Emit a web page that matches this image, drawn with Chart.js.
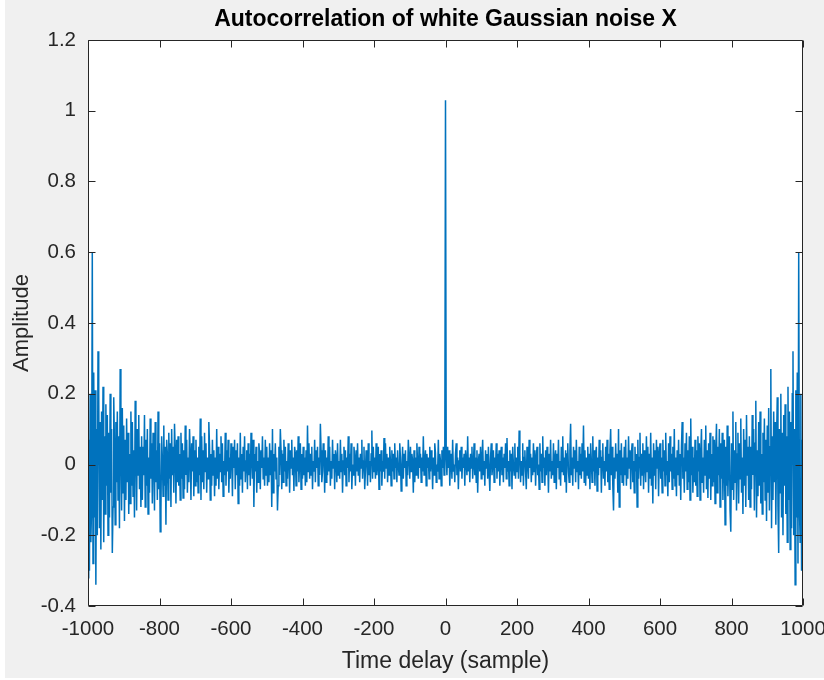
<!DOCTYPE html>
<html>
<head>
<meta charset="utf-8">
<script src="https://cdn.jsdelivr.net/npm/chart.js@4/dist/chart.umd.min.js"></script>
<style>
html,body{margin:0;padding:0;background:#ffffff;}
#wrap{position:absolute;left:0;top:0;width:824px;height:680px;}
canvas{display:block;}
</style>
</head>
<body>
<div id="wrap"><canvas id="c" width="824" height="680"></canvas></div>
<script>
const titleText = 'Autocorrelation of white Gaussian noise X';
const xLabel = 'Time delay (sample)';
const yLabel = 'Amplitude';
const xTicks = [-1000, -800, -600, -400, -200, 0, 200, 400, 600, 800, 1000];
const yTicks = [-0.4, -0.2, 0, 0.2, 0.4, 0.6, 0.8, 1, 1.2];
const lagStep = 2;
// autocorrelation for lags 0, 2, 4, ..., 1000 (the plot is symmetric about lag 0)
const halfValues = [
1.03,.02,-.03,.05,-.01,.04,-.06,.01,.03,-.04,.07,-.02,0,-.05,.03,.06,-.03,.02,-.07,.01,.04,-.02,.05,-.04,.02,
-.01,.03,-.06,.04,.01,-.03,.08,-.02,.02,-.05,.03,-.01,.05,-.04,0,.06,-.03,.02,-.05,.04,-.08,.01,.03,-.02,.05,
-.04,.02,.07,-.03,.01,-.06,.04,-.01,.03,-.04,.05,-.02,-.075,.02,.06,-.03,0,.04,-.05,.02,-.01,.06,-.04,.03,-.02,
.04,-.06,.01,.05,-.03,.02,-.05,.03,-.01,.06,-.04,.075,-.02,.01,-.06,.04,-.02,.03,-.07,.05,0,-.03,.06,-.04,.02,
-.02,.05,-.04,.096,.03,-.05,.01,-.03,.06,-.06,.02,.04,-.02,-.07,.05,.01,-.04,.07,-.01,.03,-.05,.02,-.03,.06,-.02,
.04,-.06,.02,.05,-.03,0,-.07,.06,-.02,.03,-.05,.08,-.01,.02,-.06,.04,-.03,.05,.01,-.08,.03,-.02,.07,-.04,.01,
-.03,.06,-.05,.02,.04,-.07,.03,-.01,.07,-.04,.01,-.06,.05,-.02,.08,-.03,.02,-.05,.04,-.08,.03,.06,-.02,-.05,.04,
.115,-.03,.02,-.06,.05,-.01,.04,-.05,.07,-.02,.01,-.07,.05,-.03,.03,-.04,.06,-.02,.11,-.05,.04,-.06,.02,-.03,.05,
-.04,.03,-.07,.06,.01,-.05,.08,-.02,.04,-.06,.03,.05,-.075,.02,-.03,.07,-.01,.04,-.08,.02,.06,-.04,.01,-.06,.05,
-.02,.07,-.05,.03,-.07,.04,.1,-.03,.05,-.06,-.13,.02,-.04,.06,-.02,.03,-.08,.1,-.12,.04,-.03,.06,-.05,.02,-.06,
.05,-.03,.07,-.06,.02,-.04,.08,-.01,.04,-.07,.03,.06,-.05,.01,-.08,.05,-.02,.03,-.12,.07,-.04,.02,.09,-.06,.03,
-.03,.06,-.07,.04,.01,-.05,.08,-.02,.05,-.08,.03,-.04,.09,-.06,.02,-.11,.06,-.03,.04,-.07,.07,-.01,.05,-.09,.03,
.06,-.04,.02,-.08,.07,-.02,.04,-.06,.09,-.03,.01,-.09,.06,-.05,.08,-.02,.03,-.07,.05,-.04,.1,-.06,.02,-.09,.04,
-.03,.07,-.06,.03,-.1,.05,.12,-.04,.02,-.08,.06,-.02,.09,-.07,.04,-.05,.08,-.1,.13,-.03,.05,-.08,.02,-.05,.07,
-.06,.04,-.09,.08,-.02,.06,-.1,.03,.1,-.05,.02,-.08,.07,-.03,.11,-.07,.04,-.095,.06,-.04,.09,-.1,.03,-.06,.08,
-.05,.07,-.11,.04,.115,-.08,.05,-.03,.1,-.12,.06,-.04,.09,-.1,.03,.07,-.17,.05,-.06,.11,-.09,.02,.08,-.13,-.19,
.06,-.07,.15,-.1,.04,-.05,.12,-.13,.03,.09,-.11,.06,-.04,.13,-.08,.02,-.14,.1,-.06,.07,-.12,.14,-.03,.05,-.1,
.08,-.12,.05,-.07,.14,-.03,.1,-.13,.06,.18,-.15,.04,-.09,.12,-.06,.15,-.11,.03,-.14,.09,-.05,.13,-.1,.07,-.16,
.11,-.08,.16,-.13,.05,.27,-.18,.08,-.1,.15,-.05,.12,-.17,.06,.19,-.12,-.25,.1,-.08,.2,-.15,.09,-.2,.14,-.06,
.17,-.14,.08,-.22,.22,-.1,.15,-.24,.12,-.18,.2,.32,-.2,.1,-.34,.21,-.15,.26,-.28,.6,-.12,-.22,.2,-.3,.07,
-.32
];

const points = [];
for (let lag = -1000; lag <= 1000; lag += lagStep) {
  points.push({ x: lag, y: halfValues[Math.abs(lag) / lagStep] });
}

const frame = {
  id: 'frame',
  beforeDraw(chart) {
    const { ctx, chartArea: a } = chart;
    ctx.save();
    ctx.fillStyle = '#ffffff';
    ctx.fillRect(0, 0, chart.width, chart.height);
    ctx.fillStyle = '#f0f0f0';
    ctx.fillRect(5, 0, chart.width - 5, 678);
    ctx.fillStyle = '#ffffff';
    ctx.fillRect(a.left, a.top, a.right - a.left, a.bottom - a.top);
    ctx.restore();
  },
  afterDraw(chart) {
    const { ctx, chartArea: a, scales: { x, y } } = chart;
    ctx.save();
    ctx.strokeStyle = '#262626';
    ctx.lineWidth = 1;
    const L = Math.round(a.left) + 0.5, R = Math.round(a.right) - 0.5;
    const T = Math.round(a.top) + 0.5, B = Math.round(a.bottom) - 0.5;
    const len = 7;
    ctx.beginPath();
    ctx.rect(L, T, R - L, B - T);
    x.ticks.forEach(t => {
      const p = Math.round(x.getPixelForValue(t.value)) + 0.5;
      ctx.moveTo(p, B); ctx.lineTo(p, B - len);
      ctx.moveTo(p, T); ctx.lineTo(p, T + len);
    });
    y.ticks.forEach(t => {
      const p = Math.round(y.getPixelForValue(t.value)) + 0.5;
      ctx.moveTo(L, p); ctx.lineTo(L + len, p);
      ctx.moveTo(R, p); ctx.lineTo(R - len, p);
    });
    ctx.stroke();
    ctx.restore();
  }
};

const FONT = "'Liberation Sans', Arial, Helvetica, sans-serif";

new Chart(document.getElementById('c'), {
  type: 'line',
  data: {
    datasets: [{
      data: points,
      borderColor: '#0072BD',
      borderWidth: 1.5,
      pointRadius: 0,
      tension: 0,
      fill: false
    }]
  },
  options: {
    responsive: false,
    animation: false,
    devicePixelRatio: 1,
    layout: { padding: { left: 0, right: 21, top: 0, bottom: 0 } },
    plugins: {
      legend: { display: false },
      tooltip: { enabled: false },
      title: {
        display: true,
        fullSize: false,
        text: titleText,
        color: '#000000',
        font: { family: FONT, size: 23, weight: 'bold' },
        padding: { top: 5.7, bottom: 6.7 }
      }
    },
    scales: {
      x: {
        type: 'linear',
        min: -1000,
        max: 1000,
        afterBuildTicks(scale) { scale.ticks = xTicks.map(v => ({ value: v })); },
        afterFit(scale) { scale.height = 74; scale.paddingLeft = 0; scale.paddingRight = 0; },
        grid: { display: false, drawTicks: false },
        border: { display: false },
        ticks: {
          color: '#262626',
          font: { family: FONT, size: 20.5 },
          padding: 11,
          maxRotation: 0,
          autoSkip: false,
          callback: v => String(v)
        },
        title: {
          display: true,
          text: xLabel,
          color: '#262626',
          font: { family: FONT, size: 23 },
          padding: { top: 0, bottom: 5 }
        }
      },
      y: {
        type: 'linear',
        min: -0.4,
        max: 1.2,
        afterBuildTicks(scale) { scale.ticks = yTicks.map(v => ({ value: v })); },
        afterFit(scale) { scale.width = 88; scale.paddingTop = 0; scale.paddingBottom = 0; },
        grid: { display: false, drawTicks: false },
        border: { display: false },
        ticks: {
          color: '#262626',
          font: { family: FONT, size: 20.5 },
          padding: 12,
          autoSkip: false,
          callback: v => String(Number(Number(v).toFixed(1)))
        },
        title: {
          display: true,
          text: yLabel,
          color: '#262626',
          font: { family: FONT, size: 22 },
          padding: { top: 9, bottom: 0 }
        }
      }
    }
  },
  plugins: [frame]
});
</script>
</body>
</html>
